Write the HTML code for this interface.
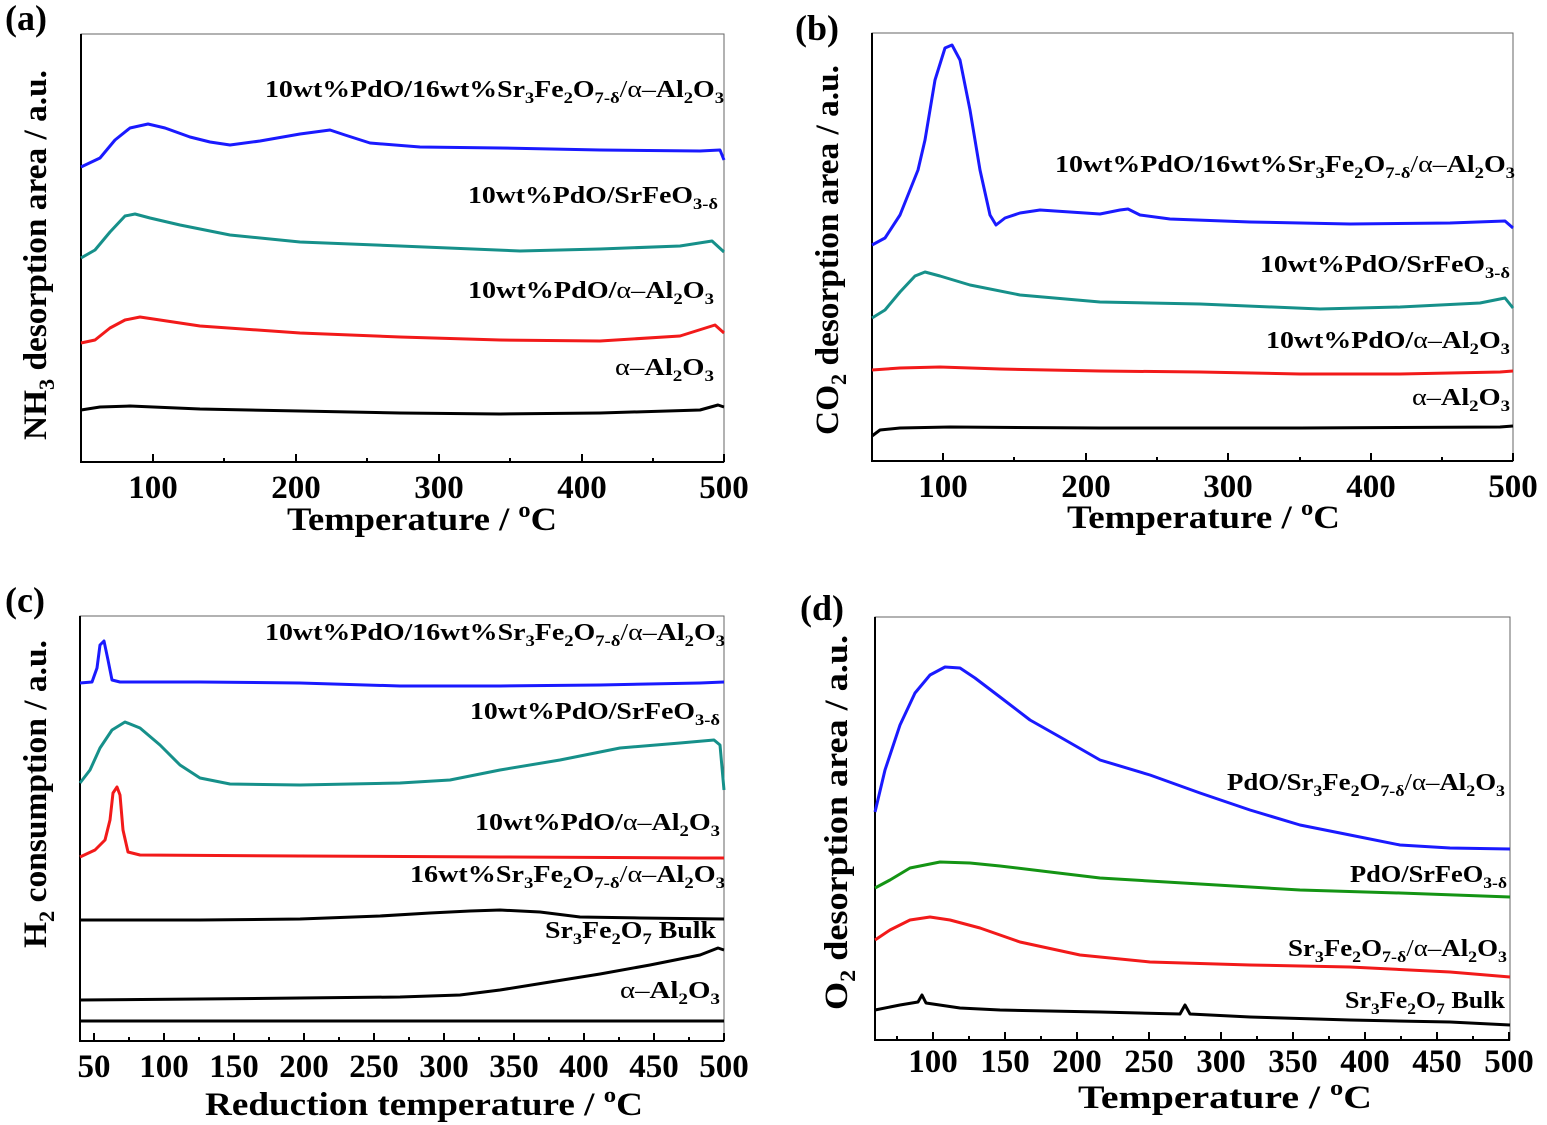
<!DOCTYPE html>
<html><head><meta charset="utf-8"><style>
html,body{margin:0;padding:0;background:#fff}
svg{display:block}
text{font-family:"Liberation Serif",serif;font-weight:bold;fill:#000}
.t{font-size:33px}
.lab{font-size:24px}
.ax{font-size:33px}
polyline{fill:none;stroke-width:3;stroke-linejoin:round}
</style></head><body>
<svg width="1547" height="1125" viewBox="0 0 1547 1125" xmlns="http://www.w3.org/2000/svg">
<g fill="none">
<rect x="81" y="34" width="643" height="428" stroke="#666" stroke-width="1"/>
<rect x="872" y="33" width="641" height="428" stroke="#666" stroke-width="1"/>
<rect x="80" y="616" width="644" height="425" stroke="#666" stroke-width="1"/>
<rect x="875" y="617" width="635" height="423" stroke="#666" stroke-width="1"/>
</g>
<g stroke="#000" stroke-width="2" fill="none">
<path d="M81 34V462H724M872 33V461H1513M80 616V1041H724M875 617V1040H1510"/>
<path d="M153 462v-8M296 462v-8M439 462v-8M582 462v-8M724 462v-8M224 462v-4M367 462v-4M510 462v-4M653 462v-4"/>
<path d="M943 461v-8M1086 461v-8M1228 461v-8M1371 461v-8M1513 461v-8M1014 461v-4M1157 461v-4M1300 461v-4M1442 461v-4"/>
<path d="M94 1041v-8M164 1041v-8M234 1041v-8M304 1041v-8M374 1041v-8M444 1041v-8M514 1041v-8M584 1041v-8M654 1041v-8M724 1041v-8M129 1041v-4M199 1041v-4M269 1041v-4M339 1041v-4M409 1041v-4M479 1041v-4M549 1041v-4M619 1041v-4M689 1041v-4"/>
<path d="M933 1040v-8M1005 1040v-8M1077 1040v-8M1149 1040v-8M1221 1040v-8M1293 1040v-8M1365 1040v-8M1437 1040v-8M1509 1040v-8M897 1040v-4M969 1040v-4M1041 1040v-4M1113 1040v-4M1185 1040v-4M1257 1040v-4M1329 1040v-4M1401 1040v-4M1473 1040v-4"/>
</g>
<g class="t" text-anchor="middle">
<text x="153" y="498">100</text><text x="296" y="498">200</text><text x="439" y="498">300</text><text x="582" y="498">400</text><text x="724" y="498">500</text>
<text x="943" y="497">100</text><text x="1086" y="497">200</text><text x="1228" y="497">300</text><text x="1371" y="497">400</text><text x="1513" y="497">500</text>
<text x="94" y="1077">50</text><text x="164" y="1077">100</text><text x="234" y="1077">150</text><text x="304" y="1077">200</text><text x="374" y="1077">250</text><text x="444" y="1077">300</text><text x="514" y="1077">350</text><text x="584" y="1077">400</text><text x="654" y="1077">450</text><text x="724" y="1077">500</text>
<text x="933" y="1072">100</text><text x="1005" y="1072">150</text><text x="1077" y="1072">200</text><text x="1149" y="1072">250</text><text x="1221" y="1072">300</text><text x="1293" y="1072">350</text><text x="1365" y="1072">400</text><text x="1437" y="1072">450</text><text x="1509" y="1072">500</text>
</g>
<g class="ax">
<text x="287" y="530" textLength="270" lengthAdjust="spacingAndGlyphs">Temperature / <tspan font-size="22" dy="-13">o</tspan><tspan dy="13">C</tspan></text>
<text x="1067" y="528" textLength="273" lengthAdjust="spacingAndGlyphs">Temperature / <tspan font-size="22" dy="-13">o</tspan><tspan dy="13">C</tspan></text>
<text x="205" y="1115" textLength="438" lengthAdjust="spacingAndGlyphs">Reduction temperature / <tspan font-size="22" dy="-13">o</tspan><tspan dy="13">C</tspan></text>
<text x="1078" y="1108" textLength="294" lengthAdjust="spacingAndGlyphs">Temperature / <tspan font-size="22" dy="-13">o</tspan><tspan dy="13">C</tspan></text>
<text transform="translate(46,440) rotate(-90)" textLength="370" lengthAdjust="spacingAndGlyphs">NH<tspan font-size="22" dy="8">3</tspan><tspan dy="-8"> desorption area / a.u.</tspan></text>
<text transform="translate(838,435) rotate(-90)" textLength="370" lengthAdjust="spacingAndGlyphs">CO<tspan font-size="22" dy="8">2</tspan><tspan dy="-8"> desorption area / a.u.</tspan></text>
<text transform="translate(46,948) rotate(-90)" textLength="308" lengthAdjust="spacingAndGlyphs">H<tspan font-size="22" dy="8">2</tspan><tspan dy="-8"> consumption / a.u.</tspan></text>
<text transform="translate(847,1010) rotate(-90)" textLength="375" lengthAdjust="spacingAndGlyphs">O<tspan font-size="22" dy="8">2</tspan><tspan dy="-8"> desorption area / a.u.</tspan></text>
</g>
<g font-size="36"><text x="5" y="30">(a)</text><text x="795" y="40">(b)</text><text x="5" y="612">(c)</text><text x="800" y="620">(d)</text></g>
<polyline stroke="#1a1aff" points="81,167 100,158 115,140 130,128 148,124 165,128 190,137 210,142 230,145 260,141 300,134 330,130 345,135 370,143 420,147 500,148 600,150 700,151 720,150 724,160"/>
<polyline stroke="#16908a" points="81,258 95,250 110,232 125,216 135,214 150,218 180,225 230,235 300,242 400,246 520,251 600,249 680,246 712,241 724,252"/>
<polyline stroke="#f21a1a" points="81,343 95,340 110,328 125,320 140,317 160,320 200,326 300,333 400,337 500,340 600,341 680,336 715,325 724,333"/>
<polyline stroke="#000" points="81,410 100,407 130,406 200,409 300,411 400,413 500,414 600,413 700,410 718,405 724,407"/>
<polyline stroke="#1a1aff" points="872,245 885,238 900,215 912,185 918,170 925,140 935,80 945,48 952,45 960,60 970,110 980,170 990,215 996,225 1005,218 1020,213 1040,210 1070,212 1100,214 1120,210 1128,209 1140,215 1170,219 1250,222 1350,224 1450,223 1505,221 1513,228"/>
<polyline stroke="#16908a" points="872,318 885,310 900,292 915,276 925,272 940,276 970,285 1020,295 1100,302 1200,304 1320,309 1400,307 1480,303 1505,298 1513,308"/>
<polyline stroke="#f21a1a" points="872,370 900,368 940,367 1000,369 1100,371 1200,372 1300,374 1400,374 1500,372 1513,371"/>
<polyline stroke="#000" points="872,436 880,430 900,428 950,427 1100,428 1300,428 1500,427 1513,426"/>
<polyline stroke="#1a1aff" points="80,683 92,682 97,668 100,645 104,641 108,660 112,680 120,682 200,682 300,683 400,686 500,686 600,685 700,683 724,682"/>
<polyline stroke="#16908a" points="80,783 90,770 100,748 112,730 125,722 140,728 160,745 180,765 200,778 230,784 300,785 400,783 450,780 500,770 560,760 620,748 680,743 714,740 720,745 724,790"/>
<polyline stroke="#f21a1a" points="80,857 95,850 105,840 110,820 113,793 117,787 120,795 123,830 128,852 140,855 300,856 500,857 700,858 724,858"/>
<polyline stroke="#000" points="80,920 200,920 300,919 380,916 430,913 470,911 500,910 540,912 580,917 640,918 724,919"/>
<polyline stroke="#000" points="80,1000 200,999 300,998 400,997 460,995 500,990 550,982 600,974 650,965 700,955 718,948 724,950"/>
<polyline stroke="#000" points="80,1021 724,1021"/>
<polyline stroke="#1a1aff" points="875,812 885,770 900,725 915,693 930,675 945,667 960,668 975,678 1000,697 1030,720 1060,737 1100,760 1150,775 1200,793 1250,810 1300,825 1350,835 1400,845 1450,848 1510,849"/>
<polyline stroke="#149414" points="875,888 890,880 910,868 940,862 970,863 1000,866 1050,872 1100,878 1200,884 1300,890 1400,893 1510,897"/>
<polyline stroke="#f21a1a" points="875,940 890,930 910,920 930,917 950,920 980,928 1020,942 1080,955 1150,962 1250,965 1350,967 1450,972 1510,977"/>
<polyline stroke="#000" points="875,1010 900,1005 918,1002 922,995 926,1003 960,1008 1000,1010 1100,1012 1180,1014 1185,1005 1190,1014 1250,1017 1350,1020 1450,1022 1510,1025"/>
<g class="lab">
<text x="265" y="97" textLength="459" lengthAdjust="spacingAndGlyphs">10wt%PdO/16wt%Sr<tspan font-size="16" dy="6">3</tspan><tspan dy="-6">Fe</tspan><tspan font-size="16" dy="6">2</tspan><tspan dy="-6">O</tspan><tspan font-size="16" dy="6">7-δ</tspan><tspan dy="-6" font-weight="normal">/α–</tspan><tspan>Al</tspan><tspan font-size="16" dy="6">2</tspan><tspan dy="-6">O</tspan><tspan font-size="16" dy="6">3</tspan></text>
<text x="468" y="203" textLength="250" lengthAdjust="spacingAndGlyphs">10wt%PdO/SrFeO<tspan font-size="16" dy="6">3-δ</tspan></text>
<text x="468" y="298" textLength="246" lengthAdjust="spacingAndGlyphs">10wt%PdO/<tspan font-weight="normal">α–</tspan>Al<tspan font-size="16" dy="6">2</tspan><tspan dy="-6">O</tspan><tspan font-size="16" dy="6">3</tspan></text>
<text x="615" y="375" textLength="99" lengthAdjust="spacingAndGlyphs"><tspan font-weight="normal">α–</tspan>Al<tspan font-size="16" dy="6">2</tspan><tspan dy="-6">O</tspan><tspan font-size="16" dy="6">3</tspan></text>

<text x="1055" y="172" textLength="460" lengthAdjust="spacingAndGlyphs">10wt%PdO/16wt%Sr<tspan font-size="16" dy="6">3</tspan><tspan dy="-6">Fe</tspan><tspan font-size="16" dy="6">2</tspan><tspan dy="-6">O</tspan><tspan font-size="16" dy="6">7-δ</tspan><tspan dy="-6" font-weight="normal">/α–</tspan><tspan>Al</tspan><tspan font-size="16" dy="6">2</tspan><tspan dy="-6">O</tspan><tspan font-size="16" dy="6">3</tspan></text>
<text x="1260" y="272" textLength="250" lengthAdjust="spacingAndGlyphs">10wt%PdO/SrFeO<tspan font-size="16" dy="6">3-δ</tspan></text>
<text x="1266" y="348" textLength="244" lengthAdjust="spacingAndGlyphs">10wt%PdO/<tspan font-weight="normal">α–</tspan>Al<tspan font-size="16" dy="6">2</tspan><tspan dy="-6">O</tspan><tspan font-size="16" dy="6">3</tspan></text>
<text x="1412" y="405" textLength="98" lengthAdjust="spacingAndGlyphs"><tspan font-weight="normal">α–</tspan>Al<tspan font-size="16" dy="6">2</tspan><tspan dy="-6">O</tspan><tspan font-size="16" dy="6">3</tspan></text>

<text x="265" y="640" textLength="460" lengthAdjust="spacingAndGlyphs">10wt%PdO/16wt%Sr<tspan font-size="16" dy="6">3</tspan><tspan dy="-6">Fe</tspan><tspan font-size="16" dy="6">2</tspan><tspan dy="-6">O</tspan><tspan font-size="16" dy="6">7-δ</tspan><tspan dy="-6" font-weight="normal">/α–</tspan><tspan>Al</tspan><tspan font-size="16" dy="6">2</tspan><tspan dy="-6">O</tspan><tspan font-size="16" dy="6">3</tspan></text>
<text x="470" y="719" textLength="250" lengthAdjust="spacingAndGlyphs">10wt%PdO/SrFeO<tspan font-size="16" dy="6">3-δ</tspan></text>
<text x="475" y="830" textLength="245" lengthAdjust="spacingAndGlyphs">10wt%PdO/<tspan font-weight="normal">α–</tspan>Al<tspan font-size="16" dy="6">2</tspan><tspan dy="-6">O</tspan><tspan font-size="16" dy="6">3</tspan></text>
<text x="410" y="882" textLength="315" lengthAdjust="spacingAndGlyphs">16wt%Sr<tspan font-size="16" dy="6">3</tspan><tspan dy="-6">Fe</tspan><tspan font-size="16" dy="6">2</tspan><tspan dy="-6">O</tspan><tspan font-size="16" dy="6">7-δ</tspan><tspan dy="-6" font-weight="normal">/α–</tspan><tspan>Al</tspan><tspan font-size="16" dy="6">2</tspan><tspan dy="-6">O</tspan><tspan font-size="16" dy="6">3</tspan></text>
<text x="545" y="938" textLength="171" lengthAdjust="spacingAndGlyphs">Sr<tspan font-size="16" dy="6">3</tspan><tspan dy="-6">Fe</tspan><tspan font-size="16" dy="6">2</tspan><tspan dy="-6">O</tspan><tspan font-size="16" dy="6">7</tspan><tspan dy="-6"> Bulk</tspan></text>
<text x="620" y="998" textLength="100" lengthAdjust="spacingAndGlyphs"><tspan font-weight="normal">α–</tspan>Al<tspan font-size="16" dy="6">2</tspan><tspan dy="-6">O</tspan><tspan font-size="16" dy="6">3</tspan></text>

<text x="1227" y="790" textLength="278" lengthAdjust="spacingAndGlyphs">PdO/Sr<tspan font-size="16" dy="6">3</tspan><tspan dy="-6">Fe</tspan><tspan font-size="16" dy="6">2</tspan><tspan dy="-6">O</tspan><tspan font-size="16" dy="6">7-δ</tspan><tspan dy="-6" font-weight="normal">/α–</tspan><tspan>Al</tspan><tspan font-size="16" dy="6">2</tspan><tspan dy="-6">O</tspan><tspan font-size="16" dy="6">3</tspan></text>
<text x="1350" y="882" textLength="157" lengthAdjust="spacingAndGlyphs">PdO/SrFeO<tspan font-size="16" dy="6">3-δ</tspan></text>
<text x="1288" y="956" textLength="219" lengthAdjust="spacingAndGlyphs">Sr<tspan font-size="16" dy="6">3</tspan><tspan dy="-6">Fe</tspan><tspan font-size="16" dy="6">2</tspan><tspan dy="-6">O</tspan><tspan font-size="16" dy="6">7-δ</tspan><tspan dy="-6" font-weight="normal">/α–</tspan><tspan>Al</tspan><tspan font-size="16" dy="6">2</tspan><tspan dy="-6">O</tspan><tspan font-size="16" dy="6">3</tspan></text>
<text x="1345" y="1008" textLength="160" lengthAdjust="spacingAndGlyphs">Sr<tspan font-size="16" dy="6">3</tspan><tspan dy="-6">Fe</tspan><tspan font-size="16" dy="6">2</tspan><tspan dy="-6">O</tspan><tspan font-size="16" dy="6">7</tspan><tspan dy="-6"> Bulk</tspan></text>
</g>
</svg>
</body></html>
